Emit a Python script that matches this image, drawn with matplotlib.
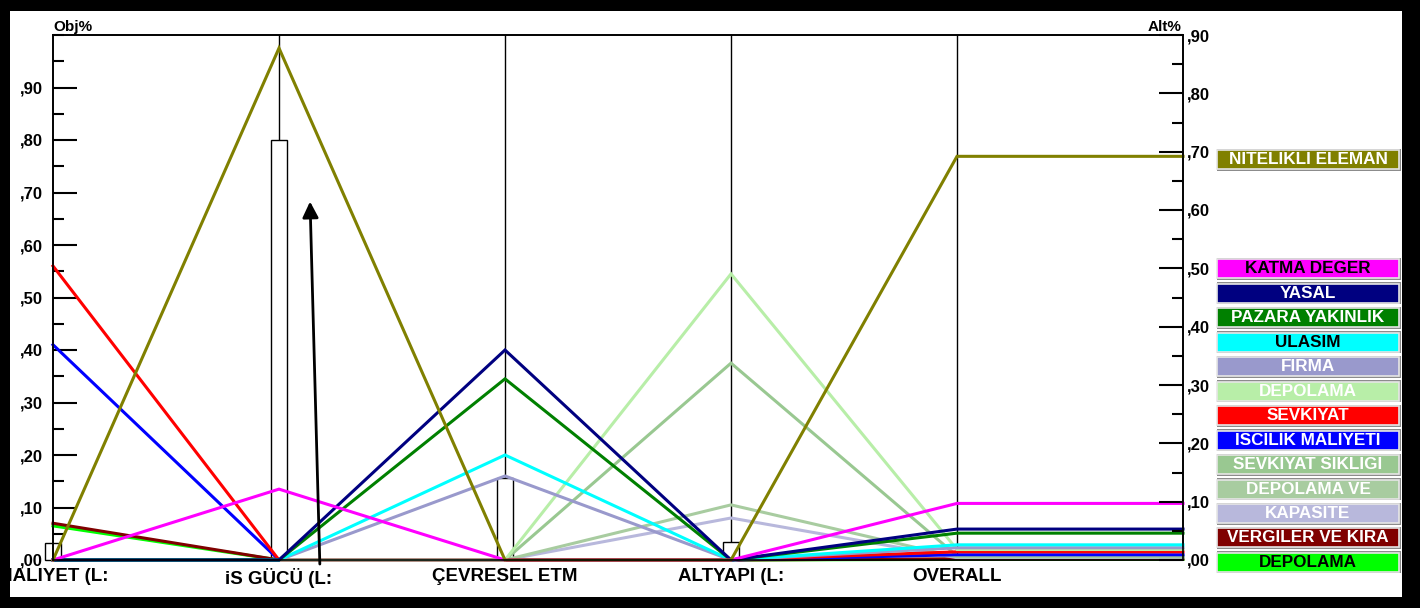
import matplotlib.pyplot as plt
from matplotlib.patches import Rectangle
from matplotlib.ticker import MultipleLocator, FuncFormatter

plt.rcParams['font.family'] = ['Liberation Sans', 'DejaVu Sans']
plt.rcParams['font.weight'] = 'bold'

# criteria (axes of the chart)
criteria = ['MALIYET (L:', 'iS GÜCÜ (L:', 'ÇEVRESEL ETM', 'ALTYAPI (L:', 'OVERALL']
# weights shown as white boxes on each criterion axis (Obj%)
weights = [0.033, 0.80, 0.157, 0.035]

# alternatives, in legend order
names = ['NITELIKLI ELEMAN', 'KATMA DEGER', 'YASAL', 'PAZARA YAKINLIK', 'ULASIM',
         'FIRMA', 'DEPOLAMA', 'SEVKIYAT', 'ISCILIK MALIYETI', 'SEVKIYAT SIKLIGI',
         'DEPOLAMA VE', 'KAPASITE', 'VERGILER VE KIRA', 'DEPOLAMA']
colors = ['#808000', '#ff00ff', '#000080', '#008000', '#00ffff',
          '#9999cc', '#b8eea8', '#ff0000', '#0000ff', '#99c891',
          '#a8cca0', '#b8b8dc', '#800000', '#00ff00']
text_colors = ['white', 'black', 'white', 'white', 'black',
               'white', 'white', 'white', 'white', 'white',
               'white', 'white', 'white', 'black']

# local priorities under each criterion (Obj% scale)
maliyet = [0, 0, 0, 0, 0, 0, 0, 0.56, 0.41, 0, 0, 0, 0.07, 0.065]
isgucu = [0.975, 0.135, 0, 0, 0, 0, 0, 0, 0, 0, 0, 0, 0, 0]
cevresel = [0, 0, 0.40, 0.345, 0.20, 0.16, 0, 0, 0, 0, 0, 0, 0, 0]
altyapi = [0, 0, 0, 0, 0, 0, 0.545, 0, 0, 0.375, 0.105, 0.08, 0, 0]
# overall priorities (Alt% scale)
overall = [0.692, 0.097, 0.053, 0.046, 0.026, 0.021, 0.018, 0.014, 0.009, 0.007,
           0.005, 0.004, 0.002, 0.001]

W, H = 1420, 608
fig = plt.figure(figsize=(W / 100, H / 100), dpi=100)
fig.patch.set_facecolor('black')
fig.patches.append(Rectangle((10 / W, 11 / H), (1402 - 10) / W, (597 - 11) / H,
                             transform=fig.transFigure, facecolor='white',
                             edgecolor='none', zorder=-10))

ax = fig.add_axes([53 / W, (H - 560) / H, (1183 - 53) / W, (560 - 35) / H])
ax.set_facecolor('none')
ax.set_xlim(0, 5)
ax.set_ylim(0, 1.0)
ax2 = ax.twinx()
ax2.set_ylim(0, 0.9)
scale = ax.get_ylim()[1] / ax2.get_ylim()[1]

fmt = FuncFormatter(lambda v, p: ',%02d' % round(v * 100))
ax.yaxis.set_major_locator(MultipleLocator(0.1))
ax.yaxis.set_minor_locator(MultipleLocator(0.05))
ax.yaxis.set_major_formatter(fmt)
ax.set_yticks([i / 10 for i in range(10)])
ax.tick_params(axis='y', which='major', direction='in', length=17, width=1.5, pad=7,
               labelsize=12)
ax.tick_params(axis='y', which='minor', direction='in', length=8, width=1.5)
ax2.yaxis.set_major_locator(MultipleLocator(0.1))
ax2.yaxis.set_minor_locator(MultipleLocator(0.05))
ax2.yaxis.set_major_formatter(fmt)
ax2.tick_params(axis='y', which='major', direction='in', length=17, width=1.5, pad=3,
                labelsize=12)
ax2.tick_params(axis='y', which='minor', direction='in', length=8, width=1.5)
for a in (ax, ax2):
    for s in a.spines.values():
        s.set_linewidth(1.2)

ax.set_xticks(range(len(criteria)))
ax.set_xticklabels(criteria, fontsize=13.5, fontweight='bold')
ax.tick_params(axis='x', length=0, pad=6)

# criterion axes
for i in range(1, len(criteria)):
    ax.axvline(i, color='black', lw=1, zorder=1)

# weight boxes
bw = 16 / 226
for i, w in enumerate(weights):
    ax.add_patch(Rectangle((i - bw / 2, 0), bw, w, facecolor='white',
                           edgecolor='black', lw=1, zorder=2, clip_on=False))

# lines
xs = [0, 1, 2, 3, 4, 5]
for k in reversed(range(len(names))):
    ys = [maliyet[k], isgucu[k], cevresel[k], altyapi[k],
          overall[k] * scale, overall[k] * scale]
    ax.plot(xs, ys, color=colors[k], lw=2.2, zorder=3, clip_on=False,
            solid_joinstyle='miter')

ax.annotate('', xy=(1.137, 0.688), xytext=(1.181, -0.013),
            arrowprops=dict(arrowstyle='-|>', color='black', lw=2, mutation_scale=24),
            annotation_clip=False, zorder=5)

fig.text(53 / W, 1 - 27 / H, 'Obj%', fontsize=11, fontweight='bold', ha='left', va='center')
fig.text(1182 / W, 1 - 27 / H, 'Alt%', fontsize=11, fontweight='bold', ha='right', va='center')

# legend boxes
centers = [160] + [269 + 24.45 * i for i in range(13)]
for k, name in enumerate(names):
    yc = centers[k]
    x0, x1 = 1217, 1399
    fig.patches.append(Rectangle((x0 / W, 1 - (yc + 11) / H), (x1 - x0 + 2) / W, 22 / H,
                                 transform=fig.transFigure, facecolor='#8c8c8c',
                                 edgecolor='none', zorder=1))
    fig.patches.append(Rectangle((x0 / W, 1 - (yc + 9.5) / H), (x1 - x0) / W, 19 / H,
                                 transform=fig.transFigure, facecolor=colors[k],
                                 edgecolor='#e6e6e6', lw=1.2, zorder=2))
    fig.text((x0 + x1) / 2 / W, 1 - yc / H, name, color=text_colors[k], fontsize=12.3,
             fontweight='bold', ha='center', va='center', zorder=3)

fig.savefig('out.png', dpi=100, facecolor=fig.get_facecolor())
